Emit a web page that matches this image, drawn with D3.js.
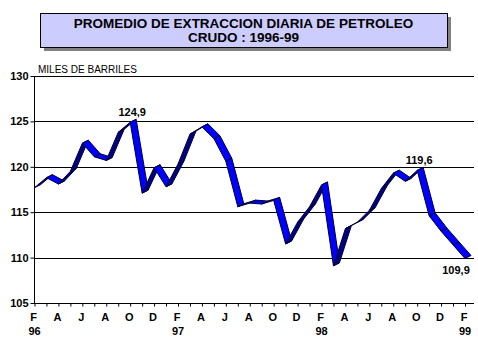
<!DOCTYPE html>
<html><head><meta charset="utf-8">
<script src="https://cdn.jsdelivr.net/npm/d3@7"></script>
<style>
html,body{margin:0;padding:0;background:#fff;}
svg{display:block;}
text{font-family:"Liberation Sans",Arial,sans-serif;}
</style></head>
<body>
<svg id="c" width="478" height="359"></svg>
<script>
const titleLines = ["PROMEDIO DE EXTRACCION DIARIA DE PETROLEO", "CRUDO : 1996-99"];
const unitLabel = "MILES DE BARRILES";
const months = ["Feb96","Mar96","Apr96","May96","Jun96","Jul96","Aug96","Sep96","Oct96","Nov96","Dec96","Jan97",
  "Feb97","Mar97","Apr97","May97","Jun97","Jul97","Aug97","Sep97","Oct97","Nov97","Dec97","Jan98",
  "Feb98","Mar98","Apr98","May98","Jun98","Jul98","Aug98","Sep98","Oct98","Nov98","Dec98","Jan99","Feb99"];
const values = [117.7,118.8,118.1,119.5,122.6,121.1,120.7,123.8,124.9,117.1,119.9,117.8,
  120.3,123.6,124.4,123.1,120.6,115.6,116.0,115.9,116.3,111.5,113.9,115.6,
  118.0,109.1,113.2,113.9,115.2,117.6,119.3,118.4,119.6,114.6,112.9,111.4,109.9];
const monthTickLabels = ["F","A","J","A","O","D","F","A","J","A","O","D","F","A","J","A","O","D","F"];
const yearTickLabels = ["96","97","98","99"];
const yTicks = [105,110,115,120,125,130];
const annotated = [{m:"Oct96", text:"124,9", pos:"above"},{m:"Oct98", text:"119,6", pos:"above"},{m:"Feb99", text:"109,9", pos:"below"}];

const svg = d3.select("#c");
const L = 34, R = 474, T = 76, B = 303;
const x = d3.scalePoint().domain(months).range([34.5, 465]);
const y = d3.scaleLinear().domain([105,130]).range([B, T]);

// Title box
const bx = 40, by = 13, bw = 407, bh = 34;
svg.append("rect").attr("x", bx+4).attr("y", by+4).attr("width", bw).attr("height", bh).attr("fill", "#808080");
svg.append("rect").attr("x", bx+0.5).attr("y", by+0.5).attr("width", bw).attr("height", bh)
  .attr("fill", "#ccccff").attr("stroke", "#000").attr("stroke-width", 1);
svg.append("text").attr("x", bx + bw/2).attr("y", 27.5).attr("text-anchor","middle")
  .attr("font-size", 13.5).attr("font-weight","bold").text(titleLines[0]);
svg.append("text").attr("x", bx + bw/2).attr("y", 42).attr("text-anchor","middle")
  .attr("font-size", 13.5).attr("font-weight","bold").text(titleLines[1]);

// unit label
svg.append("text").attr("x", 38).attr("y", 72.5).attr("font-size", 10).text(unitLabel);

// gridlines
svg.append("g").selectAll("line").data(yTicks.filter(v => v > 105)).join("line")
  .attr("x1", L).attr("x2", R).attr("y1", d => Math.round(y(d))+0.5).attr("y2", d => Math.round(y(d))+0.5)
  .attr("stroke", "#000").attr("stroke-width", 1);

// y axis
const ya = svg.append("g").attr("transform", `translate(${L+0.5},0)`)
  .call(d3.axisLeft(y).tickValues(yTicks).tickSize(4).tickPadding(2).tickFormat(d3.format("d")));
ya.select(".domain").attr("stroke", "#000").attr("d", `M0,${T}V${B+0.5}`);
ya.selectAll(".tick line").attr("stroke", "#000");
ya.selectAll(".tick text").attr("font-size", 11).attr("font-weight", "bold")
  .attr("font-family", '"Liberation Sans",Arial,sans-serif').attr("fill", "#000");

// x axis
const xa = svg.append("g").attr("transform", `translate(0,${Math.round(B)+0.5})`)
  .call(d3.axisBottom(x).tickSize(3).tickFormat(""));
xa.select(".domain").attr("stroke", "#000").attr("d", `M${L},0H${R}`);
xa.selectAll(".tick line").attr("stroke", "#000");

// month labels (every 2nd month)
const labeledMonths = months.filter((m, i) => i % 2 === 0);
svg.append("g").selectAll("text").data(labeledMonths).join("text")
  .attr("x", d => x(d) - 1).attr("y", 321).attr("text-anchor", "middle")
  .attr("font-size", 11).attr("font-weight", "bold")
  .text((d, i) => monthTickLabels[i]);
const yearMonths = months.filter(m => m.startsWith("Feb"));
svg.append("g").selectAll("text").data(yearMonths).join("text")
  .attr("x", d => x(d)).attr("y", 335).attr("text-anchor", "middle")
  .attr("font-size", 11).attr("font-weight", "bold")
  .text((d, i) => yearTickLabels[i]);

// 3D ribbon line
const dx = 6, dy = -3;
const pts = months.map((m, i) => [x(m), y(values[i])]);
const rib = svg.append("g");
for (let i = 0; i < pts.length - 1; i++) {
  const p0 = pts[i], p1 = pts[i+1];
  const desc = p1[1] > p0[1];
  const poly = [p0, p1, [p1[0]+dx, p1[1]+dy], [p0[0]+dx, p0[1]+dy]];
  rib.append("path").attr("d", "M" + poly.map(p => p.join(",")).join("L") + "Z")
    .attr("fill", desc ? "#0000ff" : "#000080")
    .attr("stroke", "#000033").attr("stroke-width", 1).attr("stroke-linejoin", "round");
}

// data labels
svg.append("g").selectAll("text").data(annotated).join("text")
  .attr("x", d => x(d.m) + (d.pos === "below" ? -9 : 2))
  .attr("y", d => y(values[months.indexOf(d.m)]) + (d.pos === "below" ? 15 : -6))
  .attr("text-anchor", "middle").attr("font-size", 11).attr("font-weight", "bold")
  .text(d => d.text);
</script>
</body></html>
